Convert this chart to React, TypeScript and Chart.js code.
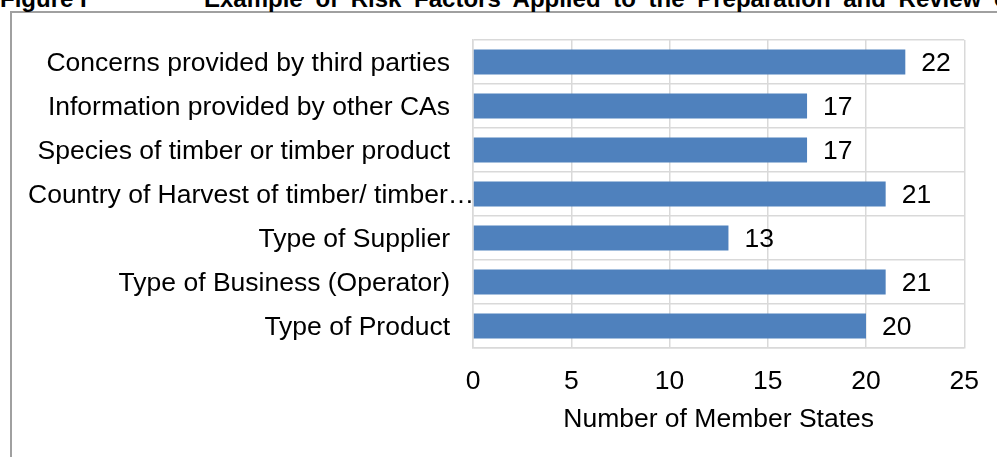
import React, { useEffect, useRef } from "react";
import { Chart, registerables } from "chart.js";

Chart.register(...registerables);

const categories: string[] = [
  "Concerns provided by third parties",
  "Information provided by other CAs",
  "Species of timber or timber product",
  "Country of Harvest of timber/ timber…",
  "Type of Supplier",
  "Type of Business (Operator)",
  "Type of Product",
];
const memberStates: number[] = [22, 17, 17, 21, 13, 21, 20];
const xMin = 0;
const xMax = 25;
const xStep = 5;
const xTitle = "Number of Member States";
const figureLabel = "Figure I";
const figureTitle = "Example of Risk Factors Applied to the Preparation and Review of Risk Assessments";

const FONT = "'Liberation Sans', Arial, Helvetica, sans-serif";
const BAR = "#4F81BD";
const GRID = "#d9d9d9";
const LABEL_SIZE = 26.5;
const TEXT_DY = 2;

const yLabelPlugin = {
  id: "yLabels",
  afterDraw(chart: any) {
    const ctx = chart.ctx;
    const scale = chart.scales.y;
    const left = chart.chartArea.left;
    ctx.save();
    ctx.font = `${LABEL_SIZE}px ${FONT}`;
    ctx.fillStyle = "#000";
    ctx.textBaseline = "middle";
    const labels = chart.data.labels as string[];
    labels.forEach((lab, i) => {
      const y = scale.getPixelForTick(i) + TEXT_DY;
      const w = ctx.measureText(lab).width;
      const xr = left - 23;
      if (xr - w < 28) {
        ctx.textAlign = "left";
        ctx.fillText(lab, 28, y);
      } else {
        ctx.textAlign = "right";
        ctx.fillText(lab, xr, y);
      }
    });
    ctx.restore();
  },
};

const valueLabelPlugin = {
  id: "valueLabels",
  afterDatasetsDraw(chart: any) {
    const ctx = chart.ctx;
    const meta = chart.getDatasetMeta(0);
    const data = chart.data.datasets[0].data as number[];
    ctx.save();
    ctx.font = `${LABEL_SIZE}px ${FONT}`;
    ctx.fillStyle = "#000";
    ctx.textBaseline = "middle";
    ctx.textAlign = "left";
    meta.data.forEach((el: any, i: number) => {
      ctx.fillText(String(data[i]), el.x + 16, el.y + TEXT_DY);
    });
    ctx.restore();
  },
};

export default function App() {
  const ref = useRef<HTMLCanvasElement | null>(null);

  useEffect(() => {
    if (!ref.current) return;
    const chart = new Chart(ref.current, {
      type: "bar",
      data: {
        labels: categories,
        datasets: [
          {
            data: memberStates,
            backgroundColor: BAR,
            borderWidth: 0,
            barPercentage: 1,
            categoryPercentage: 0.57,
          },
        ],
      },
      options: {
        indexAxis: "y",
        responsive: false,
        animation: false,
        layout: { padding: { top: 40, right: 31, left: 0, bottom: 0 } },
        plugins: {
          legend: { display: false },
          tooltip: { enabled: false },
        },
        scales: {
          x: {
            min: xMin,
            max: xMax,
            ticks: {
              stepSize: xStep,
              color: "#000",
              padding: 18,
              font: { family: FONT, size: LABEL_SIZE },
              maxRotation: 0,
            },
            grid: { color: GRID, lineWidth: 1.5, drawTicks: false },
            border: { display: true, color: GRID, width: 1.5 },
            title: {
              display: true,
              text: xTitle,
              color: "#000",
              font: { family: FONT, size: LABEL_SIZE },
              padding: { top: 0, bottom: 21 },
            },
            afterFit: (s: any) => {
              s.height = 109;
            },
          },
          y: {
            ticks: { display: false },
            grid: { color: GRID, lineWidth: 1.5, drawTicks: false },
            border: { display: true, color: GRID, width: 1.5 },
            afterFit: (s: any) => {
              s.width = 473;
            },
          },
        },
      },
      plugins: [yLabelPlugin, valueLabelPlugin],
    });
    return () => chart.destroy();
  }, []);

  return (
    <div
      style={{
        position: "fixed",
        left: 0,
        top: 0,
        width: 997,
        height: 457,
        overflow: "hidden",
        background: "#fff",
      }}
    >
      <div
        style={{
          position: "absolute",
          left: 10,
          top: 11,
          width: 1100,
          height: 600,
          border: "2px solid #a0a0a0",
          boxSizing: "border-box",
        }}
      />
      <div
        style={{
          position: "absolute",
          left: 0,
          top: -13,
          font: `bold 24px ${FONT}`,
          lineHeight: "24px",
          whiteSpace: "nowrap",
          color: "#000",
        }}
      >
        {figureLabel}
      </div>
      <div
        style={{
          position: "absolute",
          left: 204,
          top: -13,
          font: `bold 24px ${FONT}`,
          lineHeight: "24px",
          whiteSpace: "nowrap",
          wordSpacing: "6px",
          color: "#000",
        }}
      >
        {figureTitle}
      </div>
      <canvas
        ref={ref}
        width={997}
        height={457}
        style={{ position: "absolute", left: 0, top: 0, width: 997, height: 457 }}
      />
    </div>
  );
}
